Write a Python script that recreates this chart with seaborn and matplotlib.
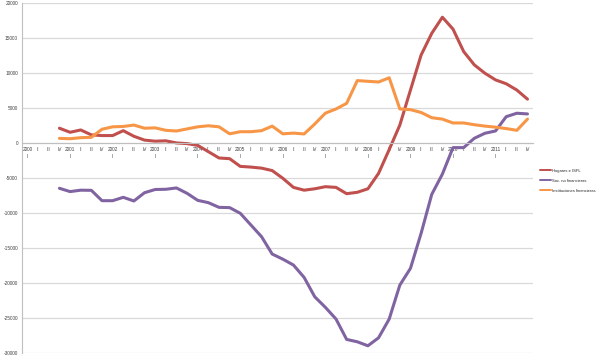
"""Flujos netos por sector, trimestral 2000-2011 (Excel style line chart)."""
# %%
import numpy as np
import pandas as pd
import seaborn as sns
import matplotlib.pyplot as plt

# %%
years = [str(y) for y in range(2000, 2012)]
quarter_names = ["I", "II", "III", "IV"]

# values start at 2000 IV
hogares = [
    2150, 1570, 1900, 1200, 1100, 1100, 1800, 1000, 450, 300, 350, 50,
    -50, -300, -1200, -2100, -2200, -3300, -3400, -3550, -3900, -5000,
    -6300, -6700, -6500, -6200, -6300, -7200, -7000, -6500, -4300, -900,
    2600, 7600, 12600, 15700, 18000, 16300, 13100, 11200, 10000, 9050,
    8500, 7600, 6300,
]
soc_no_fin = [
    -6430, -6900, -6700, -6720, -8200, -8200, -7720, -8240, -7060, -6600,
    -6570, -6380, -7150, -8150, -8480, -9150, -9190, -10000, -11670,
    -13340, -15820, -16550, -17390, -19150, -21920, -23430, -25100, -28010,
    -28350, -28920, -27780, -25100, -20250, -17860, -12860, -7300, -4400,
    -620, -620, 710, 1430, 1760, 3800, 4290, 4190,
]
inst_fin = [
    700, 650, 800, 850, 2000, 2350, 2400, 2600, 2150, 2200, 1850, 1750,
    2050, 2350, 2500, 2350, 1350, 1650, 1650, 1800, 2450, 1350, 1450, 1330,
    2750, 4300, 4900, 5700, 8950, 8850, 8750, 9350, 4900, 4800, 4400, 3650,
    3450, 2900, 2900, 2650, 2450, 2300, 2100, 1850, 3450,
]
series_names = ["Hogares e ISFL", "Soc. no financieras", "Instituciones financieras"]
colors = ["#C0504D", "#8064A2", "#F79646"]

# %%
labels = []
for y in years:
    for q in quarter_names:
        labels.append(f"{y}\nI" if q == "I" else q)
n_cat = len(labels)
start = n_cat - len(hogares)

rows = []
for name, vals in zip(series_names, [hogares, soc_no_fin, inst_fin]):
    for i, v in enumerate(vals):
        rows.append({"pos": start + i, "valor": v, "serie": name})
df = pd.DataFrame(rows)

# %%
sns.set_style("white")
plt.rcParams["font.family"] = ["Liberation Sans", "DejaVu Sans"]

fig = plt.figure(figsize=(6, 3.58), dpi=100)
ax = fig.add_axes([0.037, 0.013, 0.851, 0.978])

sns.lineplot(
    data=df, x="pos", y="valor", hue="serie", hue_order=series_names,
    palette=colors, linewidth=2.2, ax=ax, legend=False,
)

ax.set_ylim(-30000, 20000)
ax.set_xlim(-0.5, n_cat - 0.5)
ax.set_yticks(np.arange(-30000, 20001, 5000))
ax.set_yticklabels([str(v) for v in np.arange(-30000, 20001, 5000)], fontsize=3.4, color="#404040")
ax.yaxis.grid(True, color="#D9D9D9", linewidth=0.9)
ax.set_axisbelow(True)

# category axis crossing at zero
ax.spines["bottom"].set_position(("data", 0))
for s in ["top", "right"]:
    ax.spines[s].set_visible(False)
ax.spines["bottom"].set_color("#BFBFBF")
ax.spines["left"].set_color("#BFBFBF")
ax.spines["bottom"].set_linewidth(0.8)
ax.spines["left"].set_linewidth(0.8)

ax.set_xticks(np.arange(-0.5, n_cat, 1))
ax.set_xticklabels([])
ax.tick_params(axis="x", which="major", length=3, color="#BFBFBF", width=0.6)
ax.set_xticks(np.arange(n_cat), minor=True)
ax.set_xticklabels(labels, minor=True, fontsize=3.4, color="#404040", linespacing=1.5, va="top")
ax.tick_params(axis="x", which="minor", length=0, pad=3)
ax.tick_params(axis="y", length=2, color="#BFBFBF", width=0.6, pad=1)
ax.set_xlabel("")
ax.set_ylabel("")

handles = [plt.Line2D([], [], color=c, linewidth=1.4) for c in colors]
fig.legend(
    handles, series_names, loc="upper left", bbox_to_anchor=(0.897, 0.533),
    fontsize=3.0, frameon=False, handlelength=2.6, handletextpad=0.3,
    labelspacing=1.4, borderaxespad=0,
)

fig.savefig("out.png", dpi=100)
